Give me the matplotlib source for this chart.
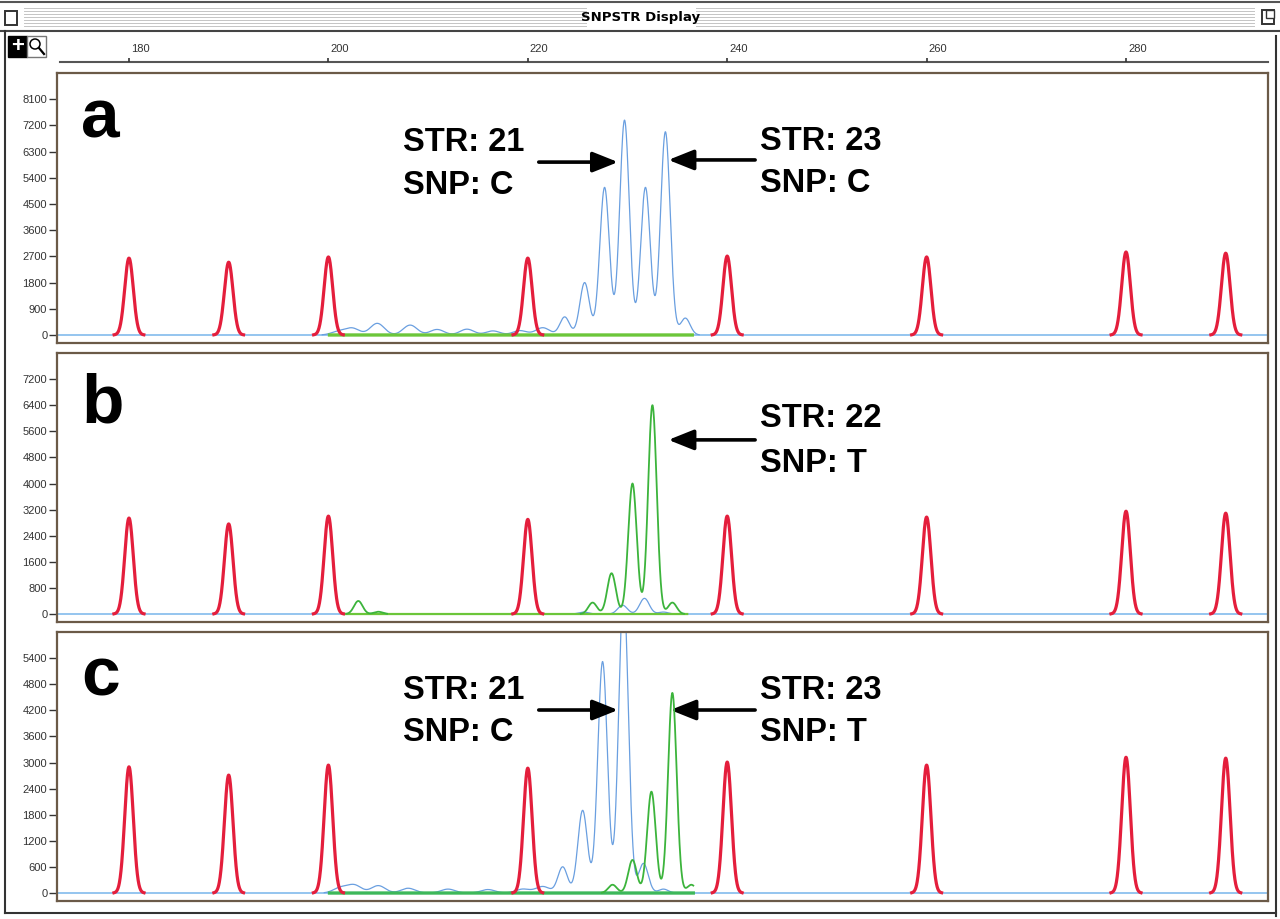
import numpy as np
import matplotlib.pyplot as plt
import matplotlib.patches as patches
from matplotlib.lines import Line2D

plt.rcParams["font.family"] = ["Liberation Sans", "DejaVu Sans"]

W, H = 1280, 919

# size standard (red dye), bp
ladder_bp = [180, 190, 200, 220, 240, 260, 280, 290]
ladder_a = [2640, 2500, 2680, 2640, 2710, 2680, 2850, 2810]
ladder_b = [2940, 2760, 3000, 2900, 3000, 2970, 3150, 3090]
ladder_c = [2900, 2710, 2940, 2870, 3010, 2940, 3120, 3100]

# blue dye peaks (bp, rfu)
blue_a_bp = [223.7, 225.7, 227.7, 229.7, 231.8, 233.8, 235.8]
blue_a_h = [620, 1800, 5070, 7380, 5070, 6980, 580]
blue_b_bp = [225.6, 229.5, 231.7, 233.6]
blue_b_h = [60, 270, 480, 60]
blue_c_bp = [223.5, 225.5, 227.5, 229.6, 231.6, 233.6]
blue_c_h = [600, 1900, 5320, 7000, 680, 90]

# low blue background bumps (bp, rfu)
noise_a_bp = [201.0, 202.4, 204.9, 208.2, 210.9, 213.9, 216.5, 219.2, 221.5]
noise_a_h = [120, 230, 400, 340, 190, 200, 140, 150, 250]
noise_c_bp = [201.2, 202.6, 205.0, 208.0, 212.0, 216.0, 219.5, 221.5]
noise_c_h = [120, 180, 170, 110, 90, 80, 90, 150]

# green dye peaks (bp, rfu)
green_b_bp = [203.0, 205.0, 226.5, 228.4, 230.5, 232.5, 234.5]
green_b_h = [400, 70, 350, 1250, 4000, 6400, 350]
green_c_bp = [228.5, 230.5, 232.4, 234.5, 236.4]
green_c_h = [190, 760, 2330, 4600, 190]

# green baseline extent (bp)
green_span = [(200.1, 236.5), (201.6, 236.0), (200.1, 236.6)]

y_max = [9000, 8000, 6000]
ruler_ticks = [180, 200, 220, 240, 260, 280]
panel_letters = ["a", "b", "c"]

x_lo, x_hi = 172.78, 294.24
xs = np.linspace(x_lo, x_hi, 6000)


def trace(bp, h, sd):
    y = np.zeros_like(xs)
    for p, v in zip(bp, h):
        y += v * np.exp(-0.5 * ((xs - p) / sd) ** 2)
    return y


def box(l, t, r, b):
    return [l / W, 1 - b / H, (r - l) / W, (b - t) / H]


def hline(fig, y, x0, x1, **kw):
    fig.add_artist(Line2D([x0 / W, x1 / W], [1 - y / H, 1 - y / H], transform=fig.transFigure, **kw))


def vline(fig, x, y0, y1, **kw):
    fig.add_artist(Line2D([x / W, x / W], [1 - y0 / H, 1 - y1 / H], transform=fig.transFigure, **kw))


def rect(fig, x, y, w, h, **kw):
    fig.add_artist(patches.Rectangle((x / W, 1 - (y + h) / H), w / W, h / H, transform=fig.transFigure, **kw))


fig = plt.figure(figsize=(12.8, 9.19), dpi=100)

# window chrome
hline(fig, 2, 0, 1280, color="#555555", lw=1.5)
for yy in range(8, 28, 3):
    hline(fig, yy, 24, 586, color="#c4c4c4", lw=0.7)
    hline(fig, yy, 696, 1254, color="#c4c4c4", lw=0.7)
hline(fig, 31, 0, 1280, color="#444444", lw=1.5)
fig.text(641 / W, 1 - 18 / H, "SNPSTR Display", ha="center", va="center",
         fontsize=9.5, weight="bold", family="DejaVu Sans")
rect(fig, 5, 11, 12, 14, facecolor="white", edgecolor="#333333", lw=1.4)
rect(fig, 1262, 10, 12, 14, facecolor="white", edgecolor="#333333", lw=1.4)
rect(fig, 1266, 10, 8, 8, facecolor="white", edgecolor="#333333", lw=1.0)
vline(fig, 5, 31, 913, color="#333333", lw=1.5)
vline(fig, 1276, 36, 916, color="#333333", lw=1.5)
hline(fig, 913, 5, 1276, color="#333333", lw=1.5)

# tool buttons
rect(fig, 8, 36, 19, 21, facecolor="black", edgecolor="black", lw=1)
fig.text(17.5 / W, 1 - 46.5 / H, "+", color="white", ha="center", va="center",
         fontsize=16, weight="bold")
rect(fig, 27, 36, 19, 21, facecolor="white", edgecolor="#777777", lw=1)
fig.add_artist(patches.Ellipse((35 / W, 1 - 44 / H), 10 / W, 10 / H, transform=fig.transFigure,
                               facecolor="none", edgecolor="black", lw=1.1))
fig.add_artist(Line2D([39 / W, 44 / W], [1 - 48 / H, 1 - 54 / H], transform=fig.transFigure,
                      color="black", lw=1.6))

# ruler
ax_r = fig.add_axes(box(57, 32, 1268, 62))
ax_r.set_xlim(x_lo, x_hi)
ax_r.set_ylim(0, 1)
ax_r.axis("off")
ax_r.plot([x_lo + 0.3, x_hi], [0, 0], color="#555555", lw=1.5, clip_on=False)
ax_r.vlines(ruler_ticks, 0, 0.13, color="#333333", lw=1.2)
for t in ruler_ticks:
    ax_r.text(t + 0.2, 0.42, str(t), fontsize=8, ha="left", va="center", color="#333333")

# panels
panel_px = [(73, 343), (353, 622), (632, 901)]
letter_base = [138, 422, 695]
ladders = [ladder_a, ladder_b, ladder_c]
blues = [(blue_a_bp, blue_a_h), (blue_b_bp, blue_b_h), (blue_c_bp, blue_c_h)]
noises = [(noise_a_bp, noise_a_h), ([], []), (noise_c_bp, noise_c_h)]
greens = [([], []), (green_b_bp, green_b_h), (green_c_bp, green_c_h)]
axes = []

for i, (top, bot) in enumerate(panel_px):
    ax = fig.add_axes(box(57, top, 1268, bot))
    axes.append(ax)
    ymax = y_max[i]
    ax.set_xlim(x_lo, x_hi)
    ax.set_ylim(-0.0306 * ymax, ymax)
    ticks = np.arange(0, ymax, ymax // 10)
    ax.set_yticks(ticks)
    ax.set_yticklabels([str(int(t)) for t in ticks])
    ax.set_xticks([])
    ax.tick_params(axis="y", direction="out", length=6, width=1, pad=1,
                   labelsize=8, colors="#333333")
    for s in ax.spines.values():
        s.set_color("#6b5a48")
        s.set_linewidth(1.6)

    # baseline
    ax.axhline(0, color="#8cc0ee", lw=1.3, zorder=1)

    # green baseline
    g0, g1 = green_span[i]
    m = (xs >= g0) & (xs <= g1)
    ax.plot(xs[m], np.zeros(m.sum()), color="#6cc63a" if i != 2 else "#3db85a",
            lw=2.4 if i != 1 else 1.6, zorder=3)

    # blue
    by = trace(*blues[i], 0.48) + trace(*noises[i], 0.7)
    ax.plot(xs, np.where(by > 8, by, np.nan), color="#6a9fe0", lw=0.9, zorder=2)

    # green peaks
    gy = trace(*greens[i], 0.43)
    ax.plot(xs[m], np.where(gy[m] > 8, gy[m], np.nan), color="#3cb43c", lw=1.3, zorder=4)

    # red size standard
    ry = trace(ladder_bp, ladders[i], 0.43)
    ax.plot(xs, np.where(ry > 6, ry, np.nan), color="#e41e3c", lw=2.3, zorder=5)

    fig.text(81 / W, 1 - letter_base[i] / H, panel_letters[i], fontsize=50,
             weight="bold", va="baseline", ha="left")

ax_a, ax_b, ax_c = axes


def label(ax, x, y1, y2, s1, s2):
    tr = ax.get_xaxis_transform()
    ax.text(x, y1, s1, transform=tr, fontsize=23.5, weight="bold", va="center", ha="left")
    ax.text(x, y2, s2, transform=tr, fontsize=23.5, weight="bold", va="center", ha="left")


def arrow(ax, x_from, x_to, y):
    ax.annotate("", xy=(x_to, y), xytext=(x_from, y),
                xycoords=("data", "axes fraction"), textcoords=("data", "axes fraction"),
                arrowprops=dict(arrowstyle="-|>,head_length=0.7,head_width=0.28",
                                lw=2.6, color="black", mutation_scale=22,
                                shrinkA=0, shrinkB=0))


label(ax_a, 207.5, 0.741, 0.585, "STR: 21", "SNP: C")
arrow(ax_a, 221.1, 229.05, 0.670)
label(ax_a, 243.3, 0.745, 0.590, "STR: 23", "SNP: C")
arrow(ax_a, 242.8, 234.1, 0.678)

label(ax_b, 243.3, 0.758, 0.591, "STR: 22", "SNP: T")
arrow(ax_b, 242.8, 234.1, 0.677)

label(ax_c, 207.5, 0.784, 0.625, "STR: 21", "SNP: C")
arrow(ax_c, 221.1, 229.05, 0.710)
label(ax_c, 243.3, 0.784, 0.625, "STR: 23", "SNP: T")
arrow(ax_c, 242.8, 234.3, 0.710)

fig.savefig("out.png", dpi=100, facecolor="white")
